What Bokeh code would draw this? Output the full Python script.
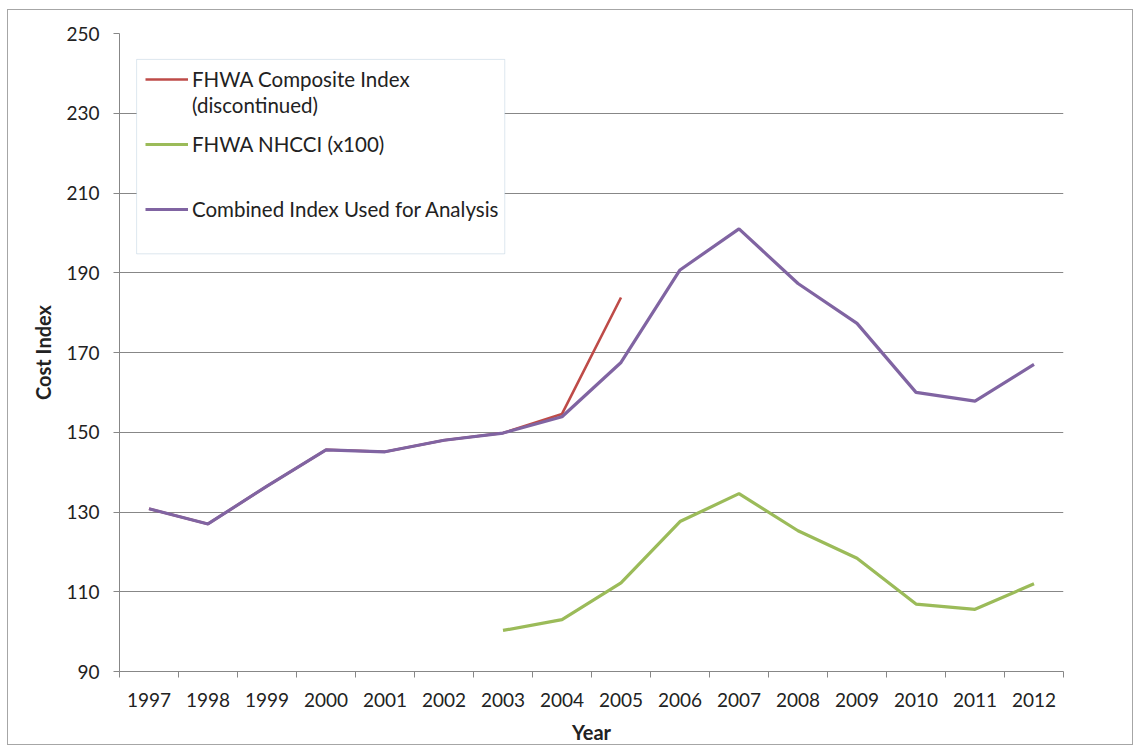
from bokeh.plotting import figure
from bokeh.models import Range1d, FixedTicker, Legend, LegendItem, BoxAnnotation, Label
from bokeh.embed import file_html
from bokeh.resources import INLINE

years = list(range(1997, 2013))
year_labels = [str(y) for y in years]

composite_years = years[:9]
composite = [130.8, 127.0, 136.5, 145.6, 145.1, 148.0, 149.8, 154.6, 183.8]

nhcci_years = years[6:]
nhcci = [100.3, 103.0, 112.2, 127.6, 134.6, 125.3, 118.4, 106.9, 105.6, 112.0]

combined = [130.8, 127.0, 136.5, 145.6, 145.1, 148.0, 149.8, 153.9, 167.5,
            190.7, 201.0, 187.3, 177.3, 160.0, 157.8, 167.0]

y_ticks = [90, 110, 130, 150, 170, 190, 210, 230, 250]

FONT = "Lato"
GRID = "#878787"
TXT = "#222222"

p = figure(width=1126, height=736,
           x_range=Range1d(years[0] - 0.5, years[-1] + 0.5),
           y_range=Range1d(y_ticks[0], y_ticks[-1]),
           output_backend="svg", toolbar_location=None,
           min_border_left=111, min_border_right=71,
           min_border_top=23, min_border_bottom=73)
p.margin = (9, 0, 0, 7)
p.styles = {"border": "1px solid #a6a6a6", "box-sizing": "border-box"}
p.outline_line_color = None
p.background_fill_color = "white"
p.border_fill_color = "white"

# x axis: labels centred on each year, ticks between categories
p.xaxis.ticker = FixedTicker(ticks=years,
                             minor_ticks=[y - 0.5 for y in years] + [years[-1] + 0.5])
p.xaxis.major_label_overrides = {y: s for y, s in zip(years, year_labels)}
p.xaxis.major_tick_line_color = None
p.xaxis.major_tick_out = 0
p.xaxis.major_tick_in = 0
p.xaxis.minor_tick_line_color = GRID
p.xaxis.minor_tick_out = 6
p.xaxis.minor_tick_in = 0
p.xaxis.axis_line_color = GRID
p.xaxis.major_label_standoff = 15
p.xaxis.axis_label = "Year"
p.xaxis.axis_label_standoff = 10

p.yaxis.ticker = FixedTicker(ticks=y_ticks, minor_ticks=[])
p.yaxis.major_tick_out = 6
p.yaxis.major_tick_in = 0
p.yaxis.major_tick_line_color = GRID
p.yaxis.minor_tick_line_color = None
p.yaxis.axis_line_color = GRID
p.yaxis.major_label_standoff = 14
p.yaxis.axis_label = "Cost Index"
p.yaxis.axis_label_standoff = 8

for ax in (p.xaxis[0], p.yaxis[0]):
    ax.major_label_text_font = FONT
    ax.major_label_text_font_size = "19px"
    ax.major_label_text_color = TXT
    ax.axis_label_text_font = FONT
    ax.axis_label_text_font_size = "20px"
    ax.axis_label_text_font_style = "bold"
    ax.axis_label_text_color = TXT

p.xgrid.grid_line_color = None
p.ygrid.grid_line_color = GRID
p.ygrid.grid_line_width = 1

r_red = p.line(composite_years, composite, line_color="#be4b48", line_width=2.6)
r_green = p.line(nhcci_years, nhcci, line_color="#9bbb59", line_width=3.2)
r_purple = p.line(years, combined, line_color="#8064a2", line_width=3.2)

# legend frame
box = BoxAnnotation(left=1996.79, right=2003.03, top=243.5, bottom=194.75,
                    fill_color="white", fill_alpha=1.0,
                    line_color="#8eaecb", line_width=1)
p.add_layout(box)

legend = Legend(items=[
    LegendItem(label="FHWA Composite Index", renderers=[r_red]),
    LegendItem(label="FHWA NHCCI (x100)", renderers=[r_green]),
    LegendItem(label="Combined Index Used for Analysis", renderers=[r_purple]),
], location="top_left")
legend.margin = 26
legend.padding = 0
legend.border_line_color = None
legend.background_fill_alpha = 0
legend.label_text_font = FONT
legend.label_text_font_size = "20.5px"
legend.label_text_color = TXT
legend.glyph_width = 43
legend.glyph_height = 20
legend.label_standoff = 4
legend.label_height = 40
legend.spacing = 25
p.add_layout(legend)

# second line of the first legend entry
p.add_layout(Label(x=1997.73, y=232.0, text="(discontinued)",
                   text_font=FONT, text_font_size="20.5px", text_color=TXT,
                   text_align="left", text_baseline="middle"))

open("out.html", "w").write(file_html(p, INLINE))
